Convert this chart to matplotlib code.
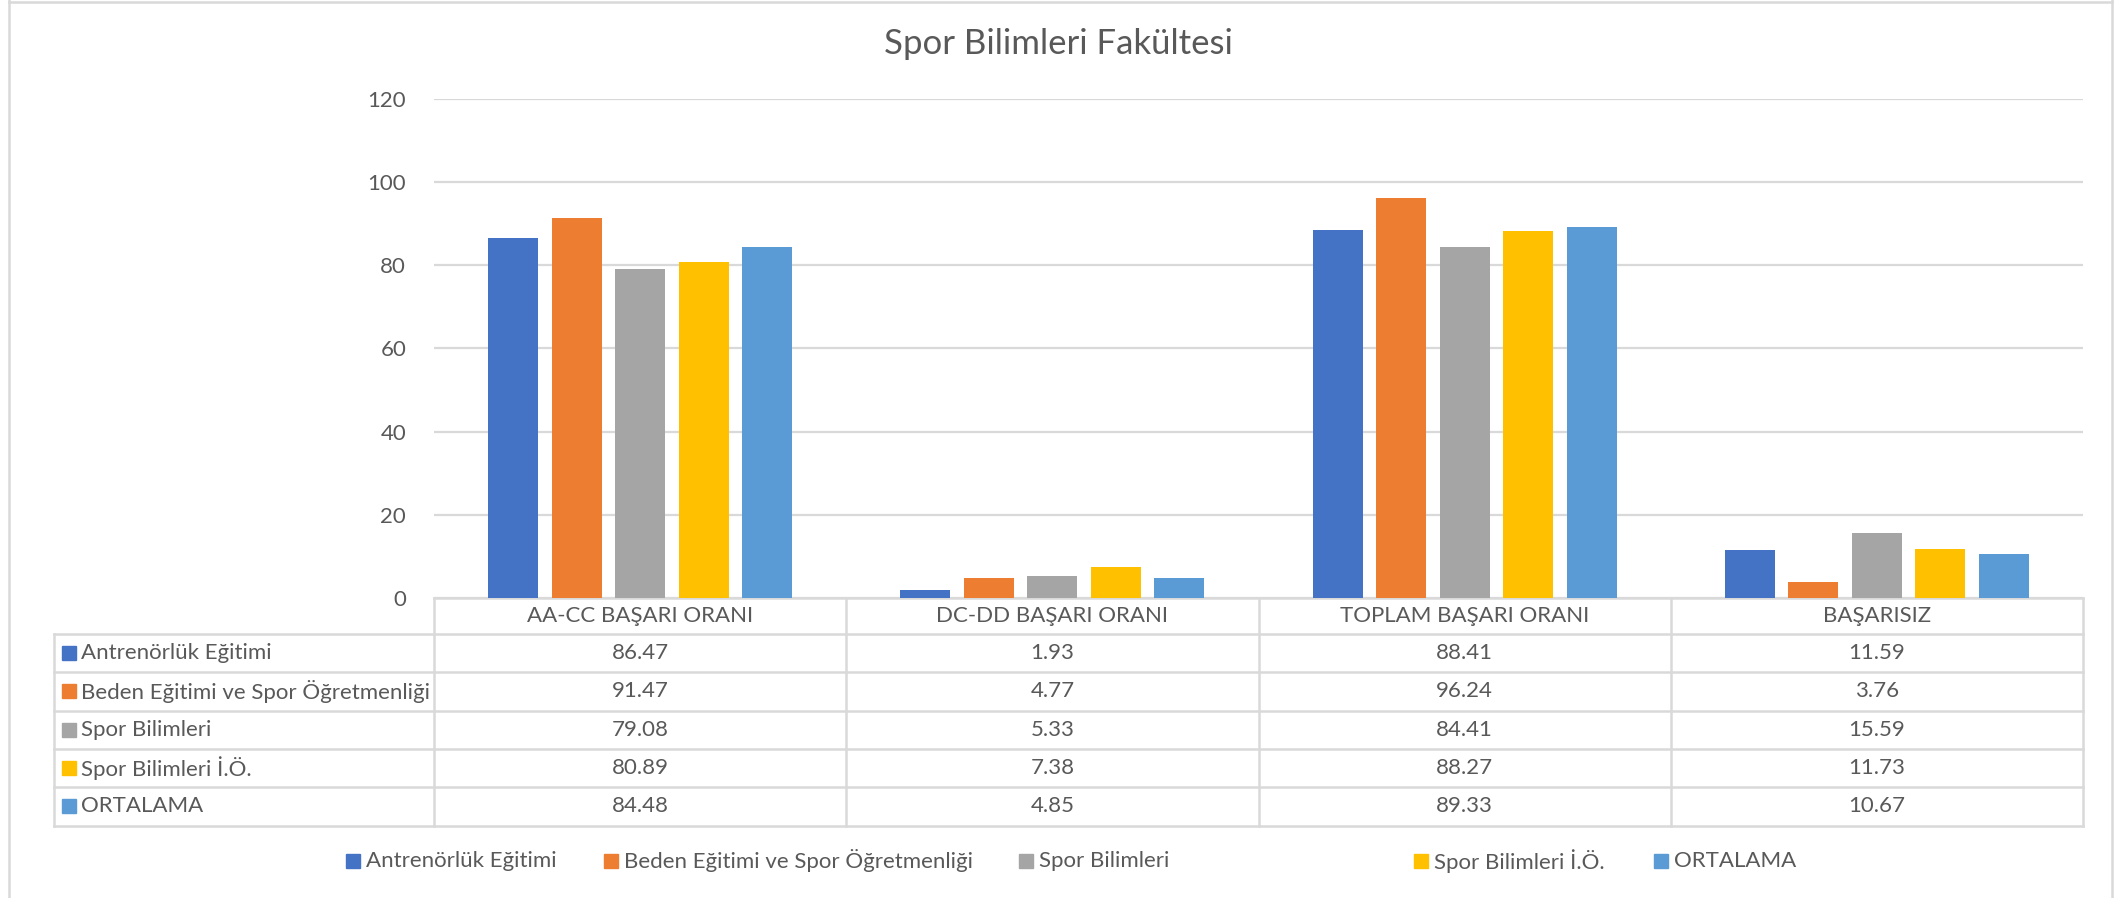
import matplotlib.pyplot as plt
from matplotlib.patches import Rectangle
from matplotlib.lines import Line2D
import numpy as np

# Data
categories = ['AA-CC BAŞARI ORANI', 'DC-DD BAŞARI ORANI', 'TOPLAM BAŞARI ORANI', 'BAŞARISIZ']
series = ['Antrenörlük Eğitimi', 'Beden Eğitimi ve Spor Öğretmenliği', 'Spor Bilimleri',
          'Spor Bilimleri İ.Ö.', 'ORTALAMA']
antrenorluk = [86.47, 1.93, 88.41, 11.59]
beden = [91.47, 4.77, 96.24, 3.76]
spor = [79.08, 5.33, 84.41, 15.59]
spor_io = [80.89, 7.38, 88.27, 11.73]
ortalama = [84.48, 4.85, 89.33, 10.67]
values = [antrenorluk, beden, spor, spor_io, ortalama]
colors = ['#4472C4', '#ED7D31', '#A5A5A5', '#FFC000', '#5B9BD5']

plt.rcParams['font.family'] = ['Lato', 'DejaVu Sans']
txt = '#595959'
grid = '#D9D9D9'
fs = 16

W, H = 2116, 898
fig = plt.figure(figsize=(W / 100, H / 100), dpi=100)
ax_l, ax_r, ax_t, ax_b = 434, 2083, 99, 598
ax = fig.add_axes([ax_l / W, 1 - ax_b / H, (ax_r - ax_l) / W, (ax_b - ax_t) / H])

x = np.arange(len(categories))
step, bw = 0.154, 0.121
for j, vals in enumerate(values):
    ax.bar(x + (j - 2) * step, vals, width=bw, color=colors[j], zorder=3)

ax.set_xlim(-0.5, len(categories) - 0.5)
ax.set_ylim(0, 120)
ax.set_yticks(range(0, 121, 20))
ax.yaxis.grid(True, color=grid, lw=1.6, zorder=0)
ax.set_xticks([])
for s in ax.spines.values():
    s.set_visible(False)
ax.tick_params(axis='y', length=0, pad=20, labelsize=fs, labelcolor=txt)

fig.text(0.5, 1 - 44 / H, 'Spor Bilimleri Fakültesi', ha='center', va='center',
         fontsize=25, color=txt)

# Data table below the axes
trans = ax.get_xaxis_transform()
px = 1 / (ax_b - ax_t)
head_h, row_h = 36 * px, 38.3 * px
cw = (ax_r - ax_l) / len(categories)
left = -0.5 - (ax_l - 54) / cw
tbl_bottom = -(head_h + row_h * len(series))
lk = dict(color=grid, lw=1.8, transform=trans, clip_on=False)

# horizontal lines
ax.add_line(Line2D([-0.5, len(categories) - 0.5], [0, 0], **lk))
for i in range(len(series) + 1):
    y = -head_h - i * row_h
    ax.add_line(Line2D([left, len(categories) - 0.5], [y, y], **lk))
# vertical lines
for c in range(len(categories) + 1):
    ax.add_line(Line2D([c - 0.5, c - 0.5], [0, tbl_bottom], **lk))
ax.add_line(Line2D([left, left], [-head_h, tbl_bottom], **lk))

for c, name in enumerate(categories):
    ax.text(c, -head_h / 2, name, transform=trans, ha='center', va='center',
            fontsize=fs, color=txt)
for i, (name, vals) in enumerate(zip(series, values)):
    yc = -head_h - (i + 0.5) * row_h
    sq = 14 * px
    ax.add_patch(Rectangle((left + 8 / cw, yc - sq / 2), 14 / cw, sq, color=colors[i],
                           transform=trans, clip_on=False))
    ax.text(left + 27 / cw, yc, name, transform=trans, ha='left', va='center',
            fontsize=fs, color=txt)
    for c, v in enumerate(vals):
        ax.text(c, yc, f'{v:.2f}', transform=trans, ha='center', va='center',
                fontsize=fs, color=txt)

# Legend
leg_x = [346, 604, 1019, 1414, 1654]
leg_y = 861
for lx, name, col in zip(leg_x, series, colors):
    fig.patches.append(Rectangle((lx / W, 1 - (leg_y + 7) / H), 14 / W, 14 / H,
                                 color=col, transform=fig.transFigure))
    fig.text((lx + 20) / W, 1 - leg_y / H, name, ha='left', va='center',
             fontsize=fs, color=txt)

# chart frame
for xs, ys in [([9, 9], [0, H]), ([2112, 2112], [0, H]), ([9, 2112], [1.5, 1.5])]:
    fig.add_artist(Line2D([v / W for v in xs], [1 - v / H for v in ys], color=grid,
                          lw=1.8, transform=fig.transFigure))

fig.savefig('out.png', dpi=100, facecolor='white')
